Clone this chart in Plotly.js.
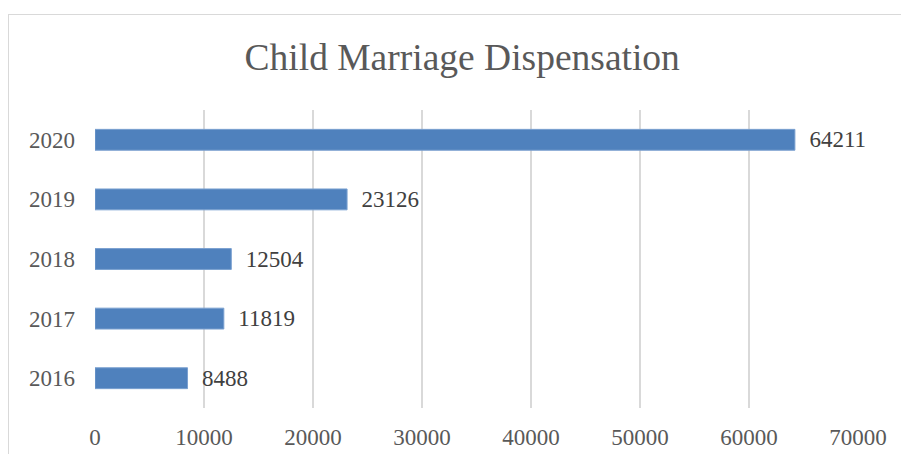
<!DOCTYPE html>
<html>
<head>
<meta charset="utf-8">
<script src="https://cdn.plot.ly/plotly-3.0.1.min.js"></script>
<style>
html,body{margin:0;padding:0;background:#fff;}
#frame{position:absolute;left:8px;top:14px;width:1000px;height:600px;border:1px solid #d9d9d9;box-sizing:border-box;}
#chart{position:absolute;left:0;top:0;width:901px;height:454px;}
</style>
</head>
<body>
<div id="frame"></div>
<div id="chart"></div>
<script>
var years = ["2016", "2017", "2018", "2019", "2020"];
var dispensations = [8488, 11819, 12504, 23126, 64211];
var xTicks = [0, 10000, 20000, 30000, 40000, 50000, 60000, 70000];

var serif = "Liberation Serif, Times New Roman, serif";

var trace = {
  type: "bar",
  orientation: "h",
  y: years,
  x: dispensations,
  width: 0.35,
  marker: {color: "#4f81bd", line: {color: "#7aa0d0", width: 1}},
  text: dispensations.map(String),
  texttemplate: "  %{text}",
  textposition: "outside",
  constraintext: "none",
  cliponaxis: false,
  textfont: {family: serif, size: 23, color: "#404040"},
  hoverinfo: "none"
};

var layout = {
  width: 901,
  height: 454,
  margin: {l: 95, r: 43, t: 110, b: 46},
  paper_bgcolor: "rgba(0,0,0,0)",
  plot_bgcolor: "rgba(0,0,0,0)",
  showlegend: false,
  title: {
    text: "Child Marriage Dispensation",
    font: {family: serif, size: 37.5, color: "#595959"},
    x: 0.513,
    xanchor: "center",
    y: 0.875,
    yanchor: "middle"
  },
  xaxis: {
    range: [0, 70000],
    tickvals: xTicks,
    ticktext: xTicks.map(String),
    showgrid: true,
    gridcolor: "#d9d9d9",
    gridwidth: 1.5,
    zeroline: false,
    showline: false,
    ticks: "",
    ticklabelstandoff: 13,
    tickfont: {family: serif, size: 23, color: "#595959"}
  },
  yaxis: {
    type: "category",
    categoryorder: "array",
    categoryarray: years,
    showgrid: false,
    zeroline: false,
    showline: false,
    ticks: "",
    ticklabelstandoff: 19,
    tickfont: {family: serif, size: 23, color: "#595959"}
  }
};

Plotly.newPlot("chart", [trace], layout, {displayModeBar: false, staticPlot: true});
</script>
</body>
</html>
